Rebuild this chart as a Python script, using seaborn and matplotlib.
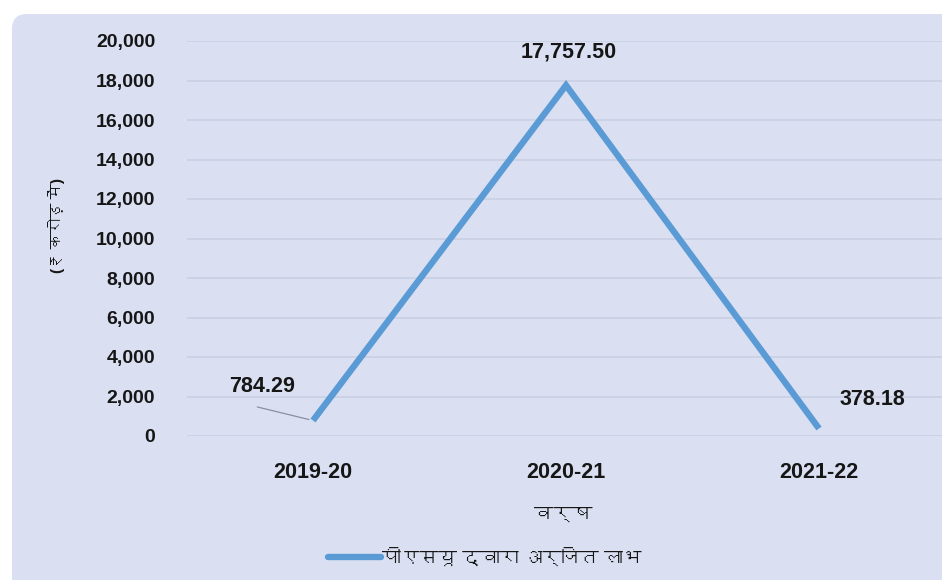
import matplotlib
matplotlib.use("Agg")
import matplotlib.pyplot as plt
from matplotlib import font_manager
from matplotlib.ft2font import FT2Font
from matplotlib.patches import FancyBboxPatch
import seaborn as sns
import pandas as pd

years = ["2019-20", "2020-21", "2021-22"]
profit = [784.29, 17757.50, 378.18]
value_labels = ["784.29", "17,757.50", "378.18"]
y_ticks = [0, 2000, 4000, 6000, 8000, 10000, 12000, 14000, 16000, 18000, 20000]
series_name = "पीएसयू द्वारा अर्जित लाभ"
x_title = "वर्ष"
y_title = "(₹ करोड़ में)"

df = pd.DataFrame({"year": years, "profit": profit, "series": series_name})

sns.set_theme(style="white")

# find an installed family that covers Devanagari
deva_fams = []
for fe in font_manager.fontManager.ttflist:
    try:
        if 0x0915 in FT2Font(fe.fname).get_charmap():
            if fe.name not in deva_fams:
                deva_fams.append(fe.name)
    except Exception:
        pass
families = ["Liberation Sans"] + deva_fams + ["DejaVu Sans"]
plt.rcParams["font.family"] = families

BG = "#dae0f2"
GRID = "#cbd1e4"
LINE = "#5b9bd5"
TXT = "#161616"

fig = plt.figure(figsize=(9.42, 5.8), dpi=100)
W, H = 942, 580
panel = FancyBboxPatch((12 / W, -0.2), 1.2, 0.2 + (H - 14) / H,
                       boxstyle="round,pad=0,rounding_size=0.016",
                       mutation_aspect=W / H,
                       transform=fig.transFigure, facecolor=BG, edgecolor="none",
                       zorder=-5)
fig.patches.append(panel)

ax = fig.add_axes([186.5 / W, (H - 436) / H, (945.5 - 186.5) / W, 395 / H])
ax.set_facecolor("none")
ax.set_zorder(2)

sns.lineplot(data=df, x="year", y="profit", hue="series", palette=[LINE],
             linewidth=4.6, ax=ax, sort=False, legend=True)
ax.lines[0].set_solid_joinstyle("miter")
ax.lines[0].set_solid_capstyle("butt")

ax.set_xlim(-0.5, 2.5)
ax.set_ylim(0, 20000)
ax.set_yticks(y_ticks)
ax.set_yticklabels([f"{v:,}" for v in y_ticks])
ax.yaxis.grid(True, color=GRID, linewidth=1.3)
ax.set_axisbelow(True)
for s in ax.spines.values():
    s.set_visible(False)
ax.tick_params(axis="y", length=0, pad=22.5, labelsize=14, labelcolor=TXT)
ax.tick_params(axis="x", length=0, pad=19, labelsize=15.5, labelcolor=TXT)
for lab in ax.get_xticklabels() + ax.get_yticklabels():
    lab.set_fontweight("bold")

ax.set_xlabel(x_title, fontsize=14, fontweight="bold", color=TXT)
ax.xaxis.set_label_coords(0.497, -0.2)
ax.xaxis.label.set_va("center")
ax.set_ylabel(y_title, fontsize=11, fontweight="bold", color=TXT)
ax.yaxis.set_label_coords(-0.171, 0.534)
ax.yaxis.label.set_va("center")

# data labels
ax.text(-0.2, 2530, value_labels[0], ha="center", va="center",
        fontsize=15.5, fontweight="bold", color=TXT)
ax.annotate("", xy=(0, profit[0]), xytext=(-0.22, 1470),
            arrowprops=dict(arrowstyle="-", color="#8a8fa0", lw=0.9,
                            shrinkA=0, shrinkB=3))
ax.text(1.01, 19440, value_labels[1], ha="center", va="center",
        fontsize=15.5, fontweight="bold", color=TXT)
ax.text(2.21, 1870, value_labels[2], ha="center", va="center",
        fontsize=15.5, fontweight="bold", color=TXT)

leg = ax.legend(loc="center", bbox_to_anchor=(485 / W, (H - 558) / H),
                bbox_transform=fig.transFigure, frameon=False, fontsize=13.5,
                handlelength=2.8, handletextpad=0.1)
for t in leg.get_texts():
    t.set_fontweight("bold")
    t.set_color(TXT)

fig.savefig("out.png", dpi=100)
